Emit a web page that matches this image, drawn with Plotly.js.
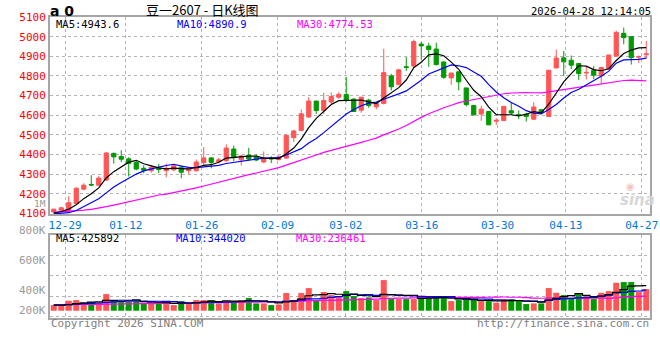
<!DOCTYPE html>
<html><head><meta charset="utf-8">
<script src="https://cdn.plot.ly/plotly-3.0.1.min.js"></script>
<style>html,body{margin:0;padding:0;background:#fff}#chart{width:660px;height:360px}</style>
</head><body><div id="chart"></div>
<script>
const dates = ['12-25','12-26','12-29','12-30','12-31','01-05','01-06','01-07','01-08','01-09',
'01-12','01-13','01-14','01-15','01-16','01-19','01-20','01-21','01-22','01-23',
'01-26','01-27','01-28','01-29','01-30','02-02','02-03','02-04','02-05','02-06',
'02-09','02-10','02-11','02-12','02-13','02-24','02-25','02-26','02-27','03-02',
'03-03','03-04','03-05','03-06','03-09','03-10','03-11','03-12','03-13','03-16',
'03-17','03-18','03-19','03-20','03-23','03-24','03-25','03-26','03-27','03-30',
'03-31','04-01','04-02','04-03','04-07','04-08','04-09','04-10','04-13','04-14',
'04-15','04-16','04-17','04-20','04-21','04-22','04-23','04-24','04-27','04-28'];

const open = [4108,4117,4115,4150,4224,4248,4244,4270,4406,4390,
4378,4360,4330,4318,4330,4318,4322,4333,4318,4318,
4359,4383,4364,4369,4428,4373,4397,4388,4362,4381,
4374,4382,4486,4523,4591,4672,4624,4667,4692,4706,
4682,4626,4677,4643,4660,4800,4757,4847,4850,4962,
4952,4937,4871,4790,4821,4739,4650,4606,4619,4570,
4573,4623,4603,4606,4580,4628,4594,4841,4892,4880,
4863,4815,4829,4800,4836,4901,5017,5000,4896,4908];
const high = [4125,4133,4188,4235,4254,4295,4290,4412,4410,4422,
4386,4372,4345,4345,4352,4354,4348,4346,4337,4375,
4438,4387,4383,4452,4446,4398,4434,4401,4416,4391,
4396,4501,4526,4629,4692,4674,4714,4717,4717,4794,
4686,4692,4684,4667,4938,4811,4836,4896,4985,4973,
4969,4969,4875,4816,4822,4740,4652,4648,4620,4585,
4647,4666,4625,4612,4666,4630,4830,4934,4927,4904,
4864,4848,4850,4845,4908,5030,5046,5002,4904,4978];
const low = [4104,4112,4110,4145,4218,4240,4242,4266,4354,4362,
4288,4320,4305,4308,4306,4284,4315,4279,4300,4312,
4345,4330,4355,4362,4366,4344,4370,4366,4357,4357,
4371,4379,4464,4519,4587,4607,4607,4655,4684,4667,
4616,4613,4638,4630,4655,4726,4751,4826,4846,4884,
4846,4853,4785,4755,4727,4645,4598,4572,4551,4551,
4572,4602,4580,4568,4577,4611,4592,4838,4799,4835,
4780,4782,4784,4760,4833,4898,4961,4858,4867,4887];
const close = [4122,4129,4155,4228,4244,4245,4280,4408,4388,4376,
4355,4326,4320,4335,4324,4330,4343,4310,4326,4362,
4383,4360,4373,4433,4384,4393,4377,4372,4382,4378,
4388,4498,4520,4607,4672,4624,4675,4695,4706,4676,
4619,4692,4649,4660,4817,4745,4831,4843,4975,4953,
4934,4858,4793,4815,4770,4654,4602,4631,4551,4574,
4645,4611,4601,4594,4642,4614,4829,4891,4872,4855,
4812,4818,4804,4843,4906,5022,4995,4893,4898,4912];

const ma5 = [4102,4110,4122,4145,4175.6,4200.2,4230.4,4281,4313,4339.4,
4361.4,4370.6,4353,4342.4,4332,4327,4330.4,4328.4,4326.6,4334.2,
4344.8,4348.2,4360.8,4382.2,4386.6,4388.6,4392,4391.8,4381.6,4380.4,
4379.4,4403.6,4433.2,4478.2,4537,4584.2,4619.6,4654.6,4674.4,4675.2,
4674.2,4677.6,4668.4,4659.2,4687.4,4712.6,4740.4,4779.2,4842.2,4869.4,
4907.2,4912.6,4902.6,4870.6,4834,4778,4726.8,4694.4,4641.6,4602.4,
4600.6,4602.4,4596.4,4605,4618.6,4612.4,4656,4714,4769.6,4812.2,
4851.8,4849.6,4832.2,4826.4,4836.6,4878.6,4914,4931.8,4942.8,4944];
const ma10 = [4098,4100,4104,4115,4135,4155,4175,4205,4235,4257.5,
4280.8,4300.5,4317,4327.7,4335.7,4344.2,4350.5,4340.7,4334.5,4333.1,
4335.9,4339.3,4344.6,4354.4,4360.4,4366.7,4370.1,4376.3,4381.9,4383.5,
4384,4397.8,4412.5,4429.9,4458.7,4481.8,4511.6,4543.9,4576.3,4606.1,
4629.2,4648.6,4661.5,4666.8,4681.3,4693.4,4709,4723.8,4750.7,4778.4,
4809.9,4826.5,4840.9,4856.4,4851.7,4842.6,4819.7,4798.5,4756.1,4718.2,
4689.3,4664.6,4645.4,4623.3,4610.5,4606.5,4629.2,4655.2,4687.3,4715.4,
4732.1,4752.8,4773.1,4798,4824.4,4865.2,4881.8,4882,4884.6,4890.3];
const ma30 = [4106,4108,4110,4113,4117,4121,4127,4135,4143,4152,
4160,4168,4178,4188,4194,4199,4206,4213,4221,4230,
4240,4250,4261,4270,4280,4290,4298,4306,4315,4324.7,
4333.6,4345.9,4358,4370.7,4384.9,4397.6,4410.7,4420.3,4430.9,4440.9,
4449.7,4461.9,4472.9,4483.7,4500.1,4514,4530.2,4548,4569.6,4589.3,
4607.7,4624.3,4638.3,4651,4663.9,4672.6,4680.1,4688.7,4694.4,4700.9,
4709.5,4713.2,4715.9,4715.5,4714.5,4714.2,4719.3,4725.8,4731.4,4737.3,
4743.8,4748,4753.1,4759.2,4762.2,4771.4,4776.9,4778.5,4776,4774.5];

const volume = [95000,95000,168000,179000,129000,146000,129000,280000,179000,146000,
146000,162000,134000,123000,146000,112000,95000,162000,112000,179000,
179000,179000,123000,162000,162000,179000,213000,123000,123000,95000,
106000,297000,179000,297000,381000,179000,314000,263000,246000,330000,
246000,213000,224000,179000,515000,196000,196000,196000,196000,246000,
218000,218000,218000,162000,179000,190000,179000,162000,162000,134000,
196000,190000,162000,112000,123000,123000,381000,302000,263000,207000,
280000,246000,196000,302000,330000,470000,482000,482000,319000,364000];
const volMa5 = [95000,95000,100000,118000,133200,143400,150200,172600,172600,176000,
176000,182600,153400,142200,142200,135400,122000,127600,125400,132000,
145400,162200,154400,164400,161000,161000,167800,167800,160000,146600,
132000,148800,160000,194800,252000,266600,270000,286800,276600,266400,
279800,259600,251800,238400,275400,265400,262000,256400,259800,206000,
210400,214800,219200,212400,199000,193400,185600,174400,174400,165400,
166600,168800,168800,158800,156600,142000,180200,208200,238400,255200,
286600,259600,238400,246200,270800,308800,356000,413200,416600,423400];
const volMa10 = [95000,95000,100000,110000,118000,125000,130000,140000,148000,154600,
159700,166400,163000,157400,159100,155700,152300,140500,133800,137100,
140400,142100,141000,144900,146500,153200,165000,161100,162200,153800,
146500,158300,163900,177400,199300,199300,209400,223400,235700,259200,
273200,264800,269300,257500,270900,272600,260800,254100,249100,240700,
237900,238400,237800,236100,202500,201900,200200,196800,193400,182200,
180000,177200,171600,166600,161000,154300,174500,188500,198600,205900,
214300,219900,223300,242300,263000,297700,307800,325800,331400,347100];
const volMa30 = [104000,104000,105000,105000,106000,107000,108000,110000,112000,113000,
115000,117000,118000,120000,121000,123000,125000,126000,128000,130000,
132000,134000,136000,138000,140000,142000,144000,146000,147000,148500,
148900,155600,156000,159900,168300,169400,175600,175000,177200,183400,
186700,188400,191400,193300,205600,208400,211700,212900,215700,217900,
219200,220500,223700,223700,224200,224600,223500,224800,226100,227400,
230400,226800,226200,220100,211500,209600,211800,213100,213700,209600,
210700,211800,210900,215000,208800,218000,227500,237000,241100,245100];

const tickDates = ['12-29','01-12','01-26','02-09','03-02','03-16','03-30','04-13','04-27'];
const priceTicks = [4100,4200,4300,4400,4500,4600,4700,4800,4900,5000,5100];
const volLabels = ['1M','800K','600K','400K','200K'];
const maLabels = ['MA5:4943.6','MA10:4890.9','MA30:4774.53'];
const volMaLabels = ['MA5:425892','MA10:344020','MA30:236461'];

const UP = '#ff5555', DOWN = '#009a00';
const idx = dates.map((d, i) => i);
const tickvals = tickDates.map(d => { const i = dates.indexOf(d); return i - 0.5 + 0.0115 * i; });
const volColors = close.map((c, i) => c >= open[i] ? UP : DOWN);

const MONO = 'DejaVu Sans Mono, Liberation Mono, monospace';
const GRID = '#b4b4b4', BORDER = '#a6a6a6';

const traces = [
  {type:'candlestick', x: idx, open, high, low, close, xaxis:'x', yaxis:'y',
   increasing:{line:{color:UP, width:1}, fillcolor:UP},
   decreasing:{line:{color:DOWN, width:1}, fillcolor:DOWN},
   whiskerwidth:0, hoverinfo:'skip'},
  {type:'scatter', mode:'lines', x: idx, y: ma30, line:{color:'#ff00ff', width:1.2}, xaxis:'x', yaxis:'y', hoverinfo:'skip'},
  {type:'scatter', mode:'lines', x: idx, y: ma10, line:{color:'#0000ff', width:1.2}, xaxis:'x', yaxis:'y', hoverinfo:'skip'},
  {type:'scatter', mode:'lines', x: idx, y: ma5, line:{color:'#000000', width:1.2}, xaxis:'x', yaxis:'y', hoverinfo:'skip'},
  {type:'bar', x: idx, y: volume, marker:{color: volColors, line:{width:0}}, xaxis:'x2', yaxis:'y2', hoverinfo:'skip'},
  {type:'scatter', mode:'lines', x: idx, y: volMa30, line:{color:'#ff00ff', width:1.2, shape:'hvh'}, xaxis:'x2', yaxis:'y2', hoverinfo:'skip'},
  {type:'scatter', mode:'lines', x: idx, y: volMa10, line:{color:'#0000ff', width:1.2, shape:'hvh'}, xaxis:'x2', yaxis:'y2', hoverinfo:'skip'},
  {type:'scatter', mode:'lines', x: idx, y: volMa5, line:{color:'#000000', width:1.2, shape:'hvh'}, xaxis:'x2', yaxis:'y2', hoverinfo:'skip'}
];

// pixel -> paper helpers for text placement
const L = 50, R = 650, T = 16.5, B = 318;
const px = v => (v - L) / (R - L);
const py = v => (B - v) / (B - T);

const ann = [];
function txt(text, x, y, opts) {
  ann.push(Object.assign({text, x: px(x), y: py(y), xref:'paper', yref:'paper', showarrow:false,
    xanchor:'left', yanchor:'middle', borderpad:0, font:{family:MONO, size:11, color:'#000'}}, opts || {}));
}
txt('<b>a 0</b>', 49, 10, {font:{family:'DejaVu Sans', size:14, color:'#000'}});
txt('豆一2607 - 日K线图', 202, 8.5, {xanchor:'center', font:{family:'Noto Sans CJK SC', size:13, color:'#000'}});
txt('2026-04-28 12:14:05', 652, 10.5, {xanchor:'right', font:{family:MONO, size:10.5, color:'#000'}});
txt(maLabels[0], 55, 24, {font:{family:MONO, size:10.5, color:'#000'}});
txt(maLabels[1], 175.5, 24, {font:{family:MONO, size:10.5, color:'#0000ff'}});
txt(maLabels[2], 296, 24, {font:{family:MONO, size:10.5, color:'#ff00ff'}});
txt(volMaLabels[0], 55, 237.5, {font:{family:MONO, size:10.5, color:'#000'}});
txt(volMaLabels[1], 175, 237.5, {font:{family:MONO, size:10.5, color:'#0000ff'}});
txt(volMaLabels[2], 295, 237.5, {font:{family:MONO, size:10.5, color:'#ff00ff'}});
const volLabelY = [203.5, 230.7, 260.7, 290.7, 310.7];
volLabels.forEach((t, i) => txt(t, 46.5, volLabelY[i], {xanchor:'right', font:{family:MONO, size:i === 0 ? 9.5 : 11, color:'#9a9a9a'}}));
txt('Copyright 2026 SINA.COM', 49.5, 324, {font:{family:MONO, size:11, color:'#808080'}});
txt('http://finance.sina.com.cn', 650, 324, {xanchor:'right', font:{family:MONO, size:11, color:'#808080'}});
txt('◉', 630, 186, {xanchor:'center', font:{family:'DejaVu Sans', size:10, color:'#f3c2c2'}});
txt('<i><b>sina</b></i>', 637, 199.5, {xanchor:'center', font:{family:'DejaVu Sans', size:15, color:'#d6d6d6'}});

const axCommon = {showgrid:true, gridcolor:GRID, griddash:'dot', gridwidth:1, zeroline:false,
  showline:true, linecolor:BORDER, linewidth:2, mirror:true, ticks:'', fixedrange:true};

const layout = {
  width:660, height:360,
  margin:{l:L, r:660-R, t:T, b:360-B, pad:0},
  paper_bgcolor:'#fff', plot_bgcolor:'#fff',
  showlegend:false, boxgap:0.2, bargap:0.2, hovermode:false,
  xaxis: Object.assign({}, axCommon, {domain:[0,1], anchor:'y', range:[-0.5, 79.5],
    tickmode:'array', tickvals, ticktext: tickDates,
    tickfont:{family:MONO, size:11, color:'#0078d7'}, rangeslider:{visible:false}}),
  yaxis: Object.assign({}, axCommon, {domain:[0.3459, 1], anchor:'x', range:[4098, 5100],
    tickmode:'array', tickvals: priceTicks, ticktext: priceTicks.map(String),
    tickfont:{family:MONO, size:11, color:'#ff0000'}}),
  xaxis2: Object.assign({}, axCommon, {domain:[0,1], anchor:'y2', range:[-0.5, 79.5],
    tickmode:'array', tickvals, showticklabels:false}),
  yaxis2: Object.assign({}, axCommon, {domain:[0, 0.2763], anchor:'x2', range:[-122640, 1276800],
    tick0:247000, dtick:344000, showticklabels:false}),
  annotations: ann
};

Plotly.newPlot('chart', traces, layout, {staticPlot:true, displayModeBar:false});
</script>
</body></html>
